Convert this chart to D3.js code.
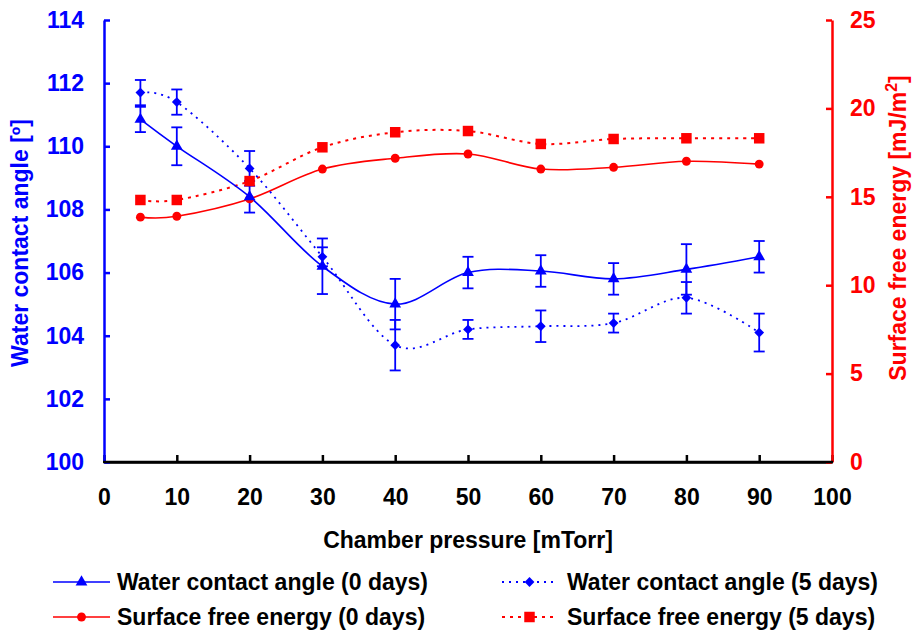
<!DOCTYPE html>
<html>
<head>
<meta charset="utf-8">
<script src="https://cdn.jsdelivr.net/npm/d3@7"></script>
<style>
  html, body { margin: 0; padding: 0; background: #fff; }
  svg { display: block; }
  text { font-family: "Liberation Sans", Arial, sans-serif; font-weight: bold; }
</style>
</head>
<body>
<svg id="chart" width="913" height="635"></svg>
<script>
// ---- data ----
const pressure = [5, 10, 20, 30, 40, 50, 60, 70, 80, 90];
const wca0 = [110.85, 110.0, 108.4, 106.2, 105.0, 106.0, 106.05, 105.8, 106.1, 106.5];
const wca0Err = [0.4, 0.6, 0.5, 0.88, 0.8, 0.5, 0.5, 0.5, 0.8, 0.5];
const wca5 = [111.7, 111.4, 109.3, 106.5, 103.7, 104.2, 104.3, 104.4, 105.2, 104.1];
const wca5Err = [0.4, 0.4, 0.55, 0.3, 0.8, 0.3, 0.5, 0.3, 0.5, 0.6];
const sfe0 = [13.85, 13.9, 14.88, 16.57, 17.18, 17.42, 16.57, 16.67, 17.01, 16.85];
const sfe5 = [14.82, 14.82, 15.89, 17.8, 18.65, 18.72, 17.99, 18.27, 18.31, 18.31];
const xTicks = [0, 10, 20, 30, 40, 50, 60, 70, 80, 90, 100];
const yLeftTicks = [100, 102, 104, 106, 108, 110, 112, 114];
const yRightTicks = [0, 5, 10, 15, 20, 25];
const legendLabels = ["Water contact angle (0 days)", "Water contact angle (5 days)",
                      "Surface free energy (0 days)", "Surface free energy (5 days)"];

const BLUE = "#0000ff", RED = "#ff0000";
const svg = d3.select("#chart");

const x = d3.scaleLinear().domain([0, 100]).range([104, 832]);
const yL = d3.scaleLinear().domain([100, 114]).range([462, 20]);
const yR = d3.scaleLinear().domain([0, 25]).range([462, 20]);

const FS = 23;

// ---- axes ----
const gx = svg.append("g").attr("transform", "translate(0,462)")
  .call(d3.axisBottom(x).tickValues(xTicks).tickSizeInner(-7).tickSizeOuter(0).tickPadding(27));
gx.select(".domain").attr("stroke", "#000").attr("stroke-width", 2.5);
gx.selectAll(".tick line").attr("stroke", "#000").attr("stroke-width", 2.5);
gx.selectAll(".tick text").attr("fill", "#000").attr("font-size", FS)
  .attr("font-family", "Liberation Sans, Arial, sans-serif").attr("font-weight", "bold");

const gl = svg.append("g").attr("transform", "translate(104,0)")
  .call(d3.axisLeft(yL).tickValues(yLeftTicks).tickSizeInner(-6).tickSizeOuter(0).tickPadding(20));
gl.select(".domain").attr("stroke", BLUE).attr("stroke-width", 2.5);
gl.selectAll(".tick line").attr("stroke", BLUE).attr("stroke-width", 2.5);
gl.selectAll(".tick text").attr("fill", BLUE).attr("font-size", FS)
  .attr("font-family", "Liberation Sans, Arial, sans-serif").attr("font-weight", "bold");

const gr = svg.append("g").attr("transform", "translate(832,0)")
  .call(d3.axisRight(yR).tickValues(yRightTicks).tickSizeInner(-6).tickSizeOuter(0).tickPadding(18));
gr.select(".domain").attr("stroke", RED).attr("stroke-width", 2.5);
gr.selectAll(".tick line").attr("stroke", RED).attr("stroke-width", 2.5);
gr.selectAll(".tick text").attr("fill", RED).attr("font-size", FS)
  .attr("font-family", "Liberation Sans, Arial, sans-serif").attr("font-weight", "bold");

// redraw x-axis baseline on top at corners
svg.append("line").attr("x1", 103).attr("x2", 833).attr("y1", 462).attr("y2", 462)
  .attr("stroke", "#000").attr("stroke-width", 2.5);

// ---- titles ----
svg.append("text").attr("x", 468).attr("y", 548).attr("text-anchor", "middle")
  .attr("font-size", FS).attr("fill", "#000").text("Chamber pressure [mTorr]");
svg.append("text").attr("transform", "translate(28,243) rotate(-90)").attr("text-anchor", "middle")
  .attr("font-size", FS).attr("fill", BLUE).text("Water contact angle [º]");
const rt = svg.append("text").attr("transform", "translate(906,228) rotate(-90)").attr("text-anchor", "middle")
  .attr("font-size", FS).attr("fill", RED);
rt.append("tspan").text("Surface free energy [mJ/m");
rt.append("tspan").attr("font-size", 16).attr("dy", -9).text("2");
rt.append("tspan").attr("dy", 9).text("]");

// ---- lines ----
const curve = d3.curveCardinal.tension(0);
function drawLine(vals, ys, color, width, dash) {
  const line = d3.line().x((d, i) => x(pressure[i])).y(d => ys(d)).curve(curve);
  svg.append("path").datum(vals).attr("d", line).attr("fill", "none")
    .attr("stroke", color).attr("stroke-width", width)
    .attr("stroke-dasharray", dash || null);
}
drawLine(sfe0, yR, RED, 1.6);
drawLine(sfe5, yR, RED, 2, "3,5");
drawLine(wca0, yL, BLUE, 1.6);
drawLine(wca5, yL, BLUE, 1.8, "2,5");

// ---- error bars ----
function drawErr(vals, errs) {
  const g = svg.append("g").attr("stroke", BLUE).attr("stroke-width", 1.8);
  vals.forEach((v, i) => {
    const cx = x(pressure[i]);
    const y1 = yL(v + errs[i]), y2 = yL(v - errs[i]);
    g.append("line").attr("x1", cx).attr("x2", cx).attr("y1", y1).attr("y2", y2);
    g.append("line").attr("x1", cx - 5.5).attr("x2", cx + 5.5).attr("y1", y1).attr("y2", y1);
    g.append("line").attr("x1", cx - 5.5).attr("x2", cx + 5.5).attr("y1", y2).attr("y2", y2);
  });
}
drawErr(wca0, wca0Err);
drawErr(wca5, wca5Err);

// ---- markers ----
const sym = {
  tri: {p: d3.symbol().type(d3.symbolTriangle).size(60), r: 0},
  dia: {p: d3.symbol().type(d3.symbolSquare).size(48), r: 45},
  cir: {p: d3.symbol().type(d3.symbolCircle).size(62), r: 0},
  sq: {p: d3.symbol().type(d3.symbolSquare).size(110), r: 0}
};
function drawMarkers(vals, ys, s, color) {
  svg.append("g").selectAll("path").data(vals).join("path")
    .attr("transform", (d, i) => `translate(${x(pressure[i])},${ys(d)}) rotate(${s.r})`)
    .attr("d", s.p).attr("fill", color);
}
drawMarkers(sfe0, yR, sym.cir, RED);
drawMarkers(sfe5, yR, sym.sq, RED);
drawMarkers(wca0, yL, sym.tri, BLUE);
drawMarkers(wca5, yL, sym.dia, BLUE);

// ---- legend ----
const leg = [
  {label: legendLabels[0], color: BLUE, dash: null, s: sym.tri, w: 1.6, x0: 53, x1: 110, tx: 117, y: 582},
  {label: legendLabels[1], color: BLUE, dash: "2,5", s: sym.dia, w: 1.8, x0: 502, x1: 557, tx: 567, y: 582},
  {label: legendLabels[2], color: RED, dash: null, s: sym.cir, w: 1.6, x0: 53, x1: 110, tx: 117, y: 617},
  {label: legendLabels[3], color: RED, dash: "3,5", s: sym.sq, w: 2, x0: 502, x1: 557, tx: 567, y: 617}
];
leg.forEach(d => {
  svg.append("line").attr("x1", d.x0).attr("x2", d.x1).attr("y1", d.y).attr("y2", d.y)
    .attr("stroke", d.color).attr("stroke-width", d.w).attr("stroke-dasharray", d.dash);
  svg.append("path").attr("d", d.s.p).attr("fill", d.color)
    .attr("transform", `translate(${(d.x0 + d.x1) / 2},${d.y}) rotate(${d.s.r})`);
  svg.append("text").attr("x", d.tx).attr("y", d.y + 8).attr("font-size", FS).attr("fill", "#000").text(d.label);
});
</script>
</body>
</html>
